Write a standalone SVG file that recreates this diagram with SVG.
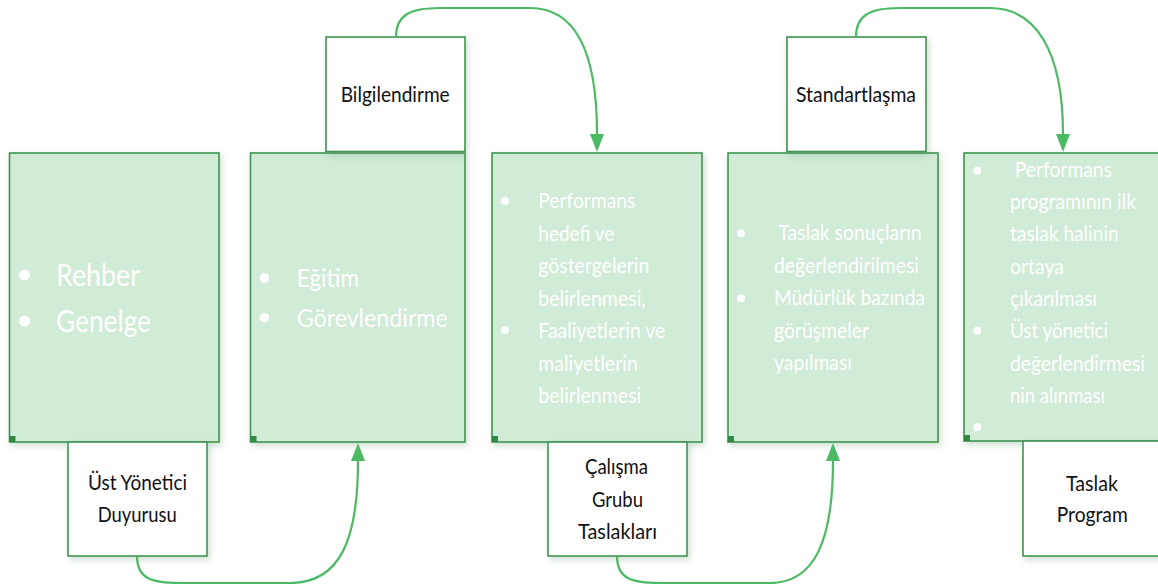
<svg xmlns="http://www.w3.org/2000/svg" width="1158" height="584" viewBox="0 0 1158 584">
<style>
.gbox{fill:#d0ebd6;stroke:#3f9552;stroke-width:1.6}
.lbox{fill:#ffffff;stroke:#3f9552;stroke-width:1.6}
.corner{fill:#2f8a45}
.wt{fill:#ffffff;font-family:Lato,"Open Sans","Noto Sans",sans-serif;font-weight:normal}
.bt{fill:#111111;font-family:Lato,"Open Sans","Noto Sans",sans-serif;font-size:21px}
.b{fill:#ffffff}
.conn{fill:none;stroke:#4cba64;stroke-width:2.2}
</style>
<defs>
<filter id="sh" x="-10%" y="-10%" width="130%" height="130%">
<feDropShadow dx="2" dy="3" stdDeviation="3" flood-color="#5a8f66" flood-opacity="0.3"/>
</filter>
<marker id="arr" viewBox="0 0 14 18" refX="7" refY="17" markerWidth="14" markerHeight="18" markerUnits="userSpaceOnUse" orient="auto-start-reverse">
<path d="M0,0 L14,0 L7,18 Z" fill="#4cba64" transform="rotate(0)"/>
</marker>
</defs>

<g id="node-box1">
<rect class="gbox" x="9.5" y="153" width="209.5" height="289" filter="url(#sh)"/>
<rect class="corner" x="9.5" y="436" width="6" height="6"/>
<circle class="b" cx="24.5" cy="275" r="5.5"/>
<circle class="b" cx="24.5" cy="321" r="5.5"/>
<text class="wt" x="56" y="285.7" font-size="31" textLength="84" lengthAdjust="spacingAndGlyphs">Rehber</text>
<text class="wt" x="56" y="331.7" font-size="31" textLength="95" lengthAdjust="spacingAndGlyphs">Genelge</text>
</g>

<g id="node-label1">
<rect class="lbox" x="68" y="442" width="139" height="114" filter="url(#sh)"/>
<text class="bt" x="88" y="490" textLength="99" lengthAdjust="spacingAndGlyphs">Üst Yönetici</text>
<text class="bt" x="97.7" y="521.7" textLength="79" lengthAdjust="spacingAndGlyphs">Duyurusu</text>
</g>

<g id="node-box2">
<rect class="gbox" x="250.5" y="153" width="214.5" height="289" filter="url(#sh)"/>
<rect class="corner" x="250.5" y="436" width="6" height="6"/>
<circle class="b" cx="264.3" cy="278" r="4.8"/>
<circle class="b" cx="264.3" cy="317.7" r="4.8"/>
<text class="wt" x="296.7" y="286.7" font-size="25" textLength="62.3" lengthAdjust="spacingAndGlyphs">Eğitim</text>
<text class="wt" x="296.7" y="326.7" font-size="25" textLength="151" lengthAdjust="spacingAndGlyphs">Görevlendirme</text>
</g>

<g id="node-label2">
<rect class="lbox" x="326" y="37" width="139" height="114.5" filter="url(#sh)"/>
<text class="bt" x="340.7" y="101.7" textLength="109" lengthAdjust="spacingAndGlyphs">Bilgilendirme</text>
</g>

<g id="node-box3">
<rect class="gbox" x="492" y="153" width="210" height="289" filter="url(#sh)"/>
<rect class="corner" x="492" y="436" width="6" height="6"/>
<circle class="b" cx="505" cy="201" r="4"/>
<circle class="b" cx="505" cy="330" r="4"/>
<g class="wt" font-size="21">
<text x="538.3" y="208.3" textLength="97" lengthAdjust="spacingAndGlyphs">Performans</text>
<text x="538.3" y="240.8" textLength="76" lengthAdjust="spacingAndGlyphs">hedefi ve</text>
<text x="538.3" y="273.3" textLength="111" lengthAdjust="spacingAndGlyphs">göstergelerin</text>
<text x="538.3" y="305.8" textLength="107.5" lengthAdjust="spacingAndGlyphs">belirlenmesi,</text>
<text x="538.3" y="338.3" textLength="127" lengthAdjust="spacingAndGlyphs">Faaliyetlerin ve</text>
<text x="538.3" y="370.8" textLength="99.5" lengthAdjust="spacingAndGlyphs">maliyetlerin</text>
<text x="538.3" y="403.3" textLength="103" lengthAdjust="spacingAndGlyphs">belirlenmesi</text>
</g>
</g>

<g id="node-label3">
<rect class="lbox" x="548" y="442" width="139" height="114" filter="url(#sh)"/>
<text class="bt" x="585" y="474.3" textLength="63" lengthAdjust="spacingAndGlyphs">Çalışma</text>
<text class="bt" x="592" y="506.7" textLength="51" lengthAdjust="spacingAndGlyphs">Grubu</text>
<text class="bt" x="578" y="539" textLength="79" lengthAdjust="spacingAndGlyphs">Taslakları</text>
</g>

<g id="node-box4">
<rect class="gbox" x="728" y="153" width="210" height="289" filter="url(#sh)"/>
<rect class="corner" x="728" y="436" width="6" height="6"/>
<circle class="b" cx="741" cy="233.3" r="4"/>
<circle class="b" cx="741" cy="298.3" r="4"/>
<g class="wt" font-size="21">
<text x="778.3" y="240" textLength="143.4" lengthAdjust="spacingAndGlyphs">Taslak sonuçların</text>
<text x="774" y="272.5" textLength="145" lengthAdjust="spacingAndGlyphs">değerlendirilmesi</text>
<text x="774" y="305" textLength="151" lengthAdjust="spacingAndGlyphs">Müdürlük bazında</text>
<text x="774" y="337.5" textLength="95" lengthAdjust="spacingAndGlyphs">görüşmeler</text>
<text x="774" y="370" textLength="78" lengthAdjust="spacingAndGlyphs">yapılması</text>
</g>
</g>

<g id="node-label4">
<rect class="lbox" x="787" y="37" width="139" height="114.5" filter="url(#sh)"/>
<text class="bt" x="796" y="101.7" textLength="120" lengthAdjust="spacingAndGlyphs">Standartlaşma</text>
</g>

<g id="node-box5">
<rect class="gbox" x="964" y="153" width="210" height="288" filter="url(#sh)"/>
<rect class="corner" x="964" y="435" width="6" height="6"/>
<circle class="b" cx="977.3" cy="170.7" r="4"/>
<circle class="b" cx="977.3" cy="330.7" r="4"/>
<circle class="b" cx="977.3" cy="427.3" r="4"/>
<g class="wt" font-size="21">
<text x="1014.7" y="176.7" textLength="97.3" lengthAdjust="spacingAndGlyphs">Performans</text>
<text x="1010" y="209" textLength="126" lengthAdjust="spacingAndGlyphs">programının ilk</text>
<text x="1010" y="241.3" textLength="108.7" lengthAdjust="spacingAndGlyphs">taslak halinin</text>
<text x="1010" y="273.6" textLength="54" lengthAdjust="spacingAndGlyphs">ortaya</text>
<text x="1010" y="306" textLength="87" lengthAdjust="spacingAndGlyphs">çıkarılması</text>
<text x="1010" y="338.3" textLength="98" lengthAdjust="spacingAndGlyphs">Üst yönetici</text>
<text x="1010" y="370.6" textLength="135" lengthAdjust="spacingAndGlyphs">değerlendirmesi</text>
<text x="1010" y="403" textLength="95" lengthAdjust="spacingAndGlyphs">nin alınması</text>
</g>
</g>

<g id="node-label5">
<rect class="lbox" x="1023" y="441" width="160" height="115" filter="url(#sh)"/>
<text class="bt" x="1066" y="491" textLength="52" lengthAdjust="spacingAndGlyphs">Taslak</text>
<text class="bt" x="1056.7" y="521.7" textLength="71" lengthAdjust="spacingAndGlyphs">Program</text>
</g>

<g id="connectors">
<path class="conn" d="M137,556 C137,578 150,583 180,583 L290,583 C340,583 358,540 358,461" />
<path d="M351,461 L365,461 L358,443 Z" fill="#4cba64"/>
<path class="conn" d="M396,37 C396,15 410,8 440,8 L530,8 C575,8 597,50 597,134" />
<path d="M590,134 L604,134 L597,152 Z" fill="#4cba64"/>
<path class="conn" d="M617,556 C617,578 630,583 660,583 L770,583 C815,583 833,540 833,461" />
<path d="M826,461 L840,461 L833,443 Z" fill="#4cba64"/>
<path class="conn" d="M856,37 C856,15 870,8 900,8 L990,8 C1035,8 1063,50 1063,134" />
<path d="M1056,134 L1070,134 L1063,152 Z" fill="#4cba64"/>
</g>
</svg>
